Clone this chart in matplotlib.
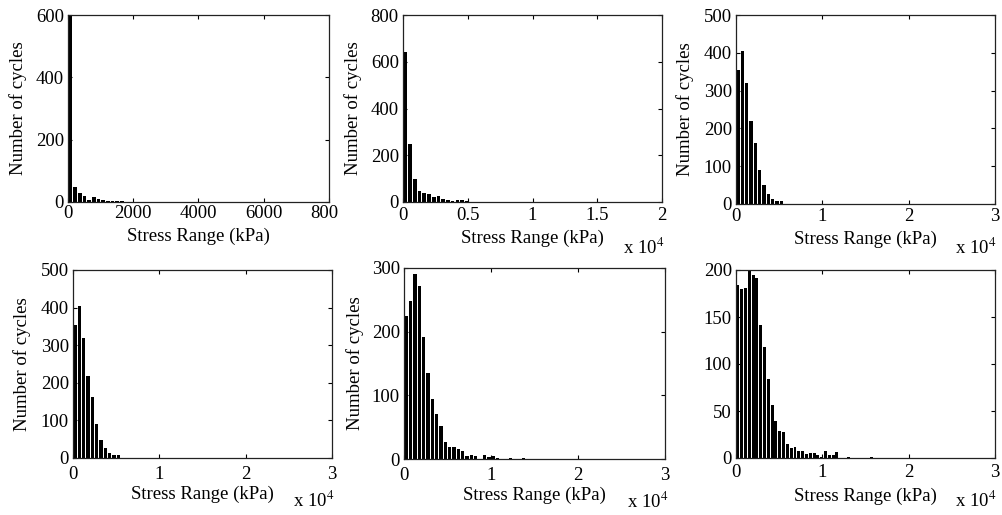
import matplotlib
matplotlib.use("Agg")
import matplotlib.pyplot as plt
from matplotlib.transforms import Bbox, TransformedBbox

plt.rcParams["font.family"] = ["Liberation Serif", "DejaVu Serif"]
plt.rcParams["mathtext.fontset"] = "stix"

# ---------------- data ----------------
# counts per histogram bin, bin widths in kPa
counts_1 = [600, 47, 28, 18, 7, 16, 10, 7, 4, 4, 4, 4]
bin_width_1 = 144

counts_2 = [643, 246, 100, 48, 39, 34, 23, 25, 14, 9, 5, 10, 10, 3]
bin_width_2 = 365

counts_3 = [355, 405, 320, 219, 161, 90, 49, 26, 12, 8, 8]
bin_width_3 = 500

counts_4 = [355, 405, 320, 219, 161, 90, 49, 26, 12, 8, 8]
bin_width_4 = 500

counts_5 = [225, 248, 291, 272, 191, 135, 95, 70, 52, 26, 19, 19, 15, 12,
            5, 7, 4, 0, 7, 3, 5, 2, 0, 0, 2, 0, 0, 2]
bin_width_5 = 500

counts_6 = [184, 180, 181, 199, 195, 192, 142, 118, 84, 56, 39, 29, 28, 15,
            11, 12, 7, 7, 4, 5, 5, 3, 1.5, 7, 3.5, 3.5, 6, 0, 0, 1, 0, 0, 0,
            0, 0, 1]
bin_width_6 = 441

xticks_small = [0, 2000, 4000, 6000, 8000]
xticklabels_small = ["0", "2000", "4000", "6000", "8000"]
xticks_2 = [0, 5000, 10000, 15000, 20000]
xticklabels_2 = ["0", "0.5", "1", "1.5", "2"]
xticks_3 = [0, 10000, 20000, 30000]
xticklabels_3 = ["0", "1", "2", "3"]

yticks_1 = [0, 200, 400, 600]
yticks_2 = [0, 200, 400, 600, 800]
yticks_3 = [0, 100, 200, 300, 400, 500]
yticks_5 = [0, 100, 200, 300]
yticks_6 = [0, 50, 100, 150, 200]

xlabel = "Stress Range (kPa)"
ylabel = "Number of cycles"
scale_text = r"x 10$^4$"

# ---------------- layout ----------------
W, H = 1003, 515
fig = plt.figure(figsize=(W / 100, H / 100), dpi=100)
fig.patch.set_facecolor("white")

panels = [
    dict(c=counts_1, bw=bin_width_1, box=(68, 15, 329, 202), xl=8000, xt=xticks_small, xtl=xticklabels_small,
         yl=600, yt=yticks_1, ylab=True, xly=236, ylx=18.5, pad=3, sc=None),
    dict(c=counts_2, bw=bin_width_2, box=(403, 15, 662, 202), xl=20000, xt=xticks_2, xtl=xticklabels_2,
         yl=800, yt=yticks_2, ylab=True, xly=238, ylx=353, pad=5, sc=(623, 248)),
    dict(c=counts_3, bw=bin_width_3, box=(736, 15, 995, 204), xl=30000, xt=xticks_3, xtl=xticklabels_3,
         yl=500, yt=yticks_3, ylab=True, xly=239, ylx=685, pad=4, sc=(955, 248)),
    dict(c=counts_4, bw=bin_width_4, box=(73, 270, 332, 458), xl=30000, xt=xticks_3, xtl=xticklabels_3,
         yl=500, yt=yticks_3, ylab=True, xly=494, ylx=22, pad=8, sc=(293, 501)),
    dict(c=counts_5, bw=bin_width_5, box=(404, 268, 665, 459), xl=30000, xt=xticks_3, xtl=xticklabels_3,
         yl=300, yt=yticks_5, ylab=True, xly=495, ylx=355, pad=8, sc=(627, 502)),
    dict(c=counts_6, bw=bin_width_6, box=(736, 270, 995, 458), xl=30000, xt=xticks_3, xtl=xticklabels_3,
         yl=200, yt=yticks_6, ylab=False, xly=496, ylx=None, pad=6, sc=(955, 501)),
]

FS = 13.5
for i, p in enumerate(panels):
    l, t, r, b = p["box"]
    ax = fig.add_axes([l / W, 1 - b / H, (r - l) / W, (b - t) / H])
    centers = [(k + 0.5) * p["bw"] for k in range(len(p["c"]))]
    ax.bar(centers, p["c"], width=0.78 * p["bw"], color="black", edgecolor="none")
    ax.set_xlim(0, p["xl"])
    ax.set_ylim(0, p["yl"])
    ax.set_xticks(p["xt"])
    ax.set_xticklabels(p["xtl"])
    ax.set_yticks(p["yt"])
    ax.tick_params(direction="in", length=3, width=0.8, top=True, right=True,
                   labelsize=FS, colors="black")
    ax.tick_params(axis="x", pad=p["pad"] * 0.72)
    ax.tick_params(axis="y", pad=3)
    for s in ax.spines.values():
        s.set_linewidth(0.9)
        s.set_color("#222222")
    ax.set_xlabel(xlabel, fontsize=FS, va="center")
    ax.xaxis.set_label_coords(0.5, (b - p["xly"]) / (b - t))
    if p["ylab"]:
        ax.set_ylabel(ylabel, fontsize=FS, va="center")
        ax.yaxis.set_label_coords((p["ylx"] - l) / (r - l), 0.5)
    if p["sc"] is not None:
        fig.text(p["sc"][0] / W, 1 - p["sc"][1] / H, scale_text, fontsize=FS,
                 ha="left", va="center")
    if i == 0:
        # the reference image cuts the last tick label at the panel edge
        clip = TransformedBbox(Bbox([[0, 0], [338 / W, 1]]), fig.transFigure)
        for lab in ax.get_xticklabels():
            lab.set_clip_box(clip)
            lab.set_clip_on(True)

fig.savefig("out.png", dpi=100, facecolor="white")
